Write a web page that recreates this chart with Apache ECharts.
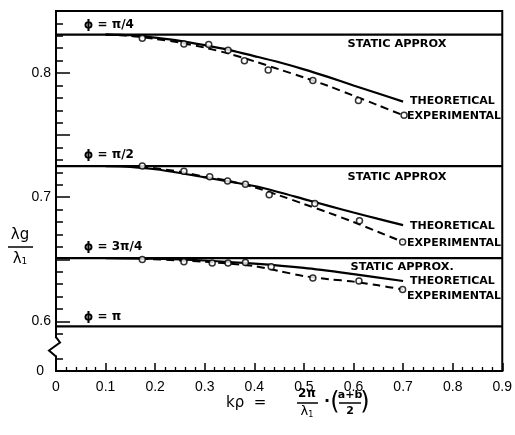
<!DOCTYPE html>
<html><head><meta charset="utf-8">
<script src="https://cdn.jsdelivr.net/npm/echarts@6/dist/echarts.min.js"></script>
<style>html,body{margin:0;padding:0;background:#fff}#c{width:515px;height:435px}</style>
</head><body><div id="c"></div>
<script>
// ---- data ----
const xTickLabels = ['0','0.1','0.2','0.3','0.4','0.5','0.6','0.7','0.8','0.9'];
const yLabelValues = [0.56, 0.6, 0.7, 0.8];      // 0.56 is the broken-axis position of "0"
const yTickLabels = ['0', '0.6', '0.7', '0.8'];
const phiNames = ['ϕ = π/4', 'ϕ = π/2', 'ϕ = 3π/4', 'ϕ = π'];
const staticApprox = [0.831, 0.725, 0.651, 0.596];
const staticNames = ['STATIC APPROX', 'STATIC APPROX', 'STATIC APPROX.'];

const theoPi4 = [[0.1,0.831],[0.15,0.8305],[0.2,0.8285],[0.25,0.826],[0.3,0.8225],[0.35,0.8185],[0.4,0.8137],[0.45,0.8087],[0.5,0.803],[0.55,0.7967],[0.6,0.790],[0.65,0.7835],[0.7,0.777]];
const expLinePi4 = [[0.1,0.831],[0.15,0.830],[0.2,0.8275],[0.25,0.8245],[0.3,0.8205],[0.35,0.8155],[0.4,0.8095],[0.45,0.803],[0.5,0.7965],[0.55,0.7895],[0.6,0.7818],[0.65,0.774],[0.7,0.766]];
const expPtsPi4 = [[0.174,0.828],[0.258,0.8235],[0.308,0.823],[0.347,0.8183],[0.380,0.810],[0.428,0.8025],[0.518,0.794],[0.610,0.778],[0.702,0.766]];

const theoPi2 = [[0.1,0.725],[0.15,0.7245],[0.2,0.7225],[0.25,0.7195],[0.3,0.716],[0.35,0.7125],[0.4,0.709],[0.45,0.704],[0.5,0.6985],[0.55,0.693],[0.6,0.6877],[0.65,0.6825],[0.7,0.6775]];
const expLinePi2 = [[0.17,0.725],[0.25,0.7205],[0.3,0.7165],[0.35,0.713],[0.4,0.708],[0.45,0.7015],[0.5,0.6945],[0.55,0.6875],[0.6,0.680],[0.65,0.672],[0.7,0.664]];
const expPtsPi2 = [[0.174,0.7252],[0.258,0.721],[0.310,0.7164],[0.346,0.7131],[0.382,0.7105],[0.430,0.702],[0.522,0.695],[0.612,0.681],[0.699,0.664]];

const theo3Pi4 = [[0.1,0.651],[0.2,0.6505],[0.3,0.649],[0.4,0.6465],[0.5,0.643],[0.6,0.638],[0.7,0.6325]];
const expLine3Pi4 = [[0.17,0.6505],[0.3,0.648],[0.4,0.6445],[0.45,0.6405],[0.5,0.6365],[0.55,0.634],[0.6,0.632],[0.65,0.629],[0.7,0.6256]];
const expPts3Pi4 = [[0.174,0.6498],[0.258,0.648],[0.315,0.6471],[0.347,0.6471],[0.382,0.6474],[0.434,0.644],[0.518,0.635],[0.611,0.6325],[0.699,0.6256]];

// ---- build ----
const Y_MIN = 0.56, Y_MAX = 0.85;
const yMinorTicks = [];
for (let k = 1; k <= 28; k++) { const v = Math.round((Y_MIN + k*0.01)*100)/100; if (v !== 0.58) yMinorTicks.push(v); }
const yMajorTicks = [0.6, 0.65, 0.7, 0.75, 0.8];

const BOLD = {fontFamily:'DejaVu Sans', fontWeight:'bold', fontSize:11, color:'#000'};
const theo = [theoPi4, theoPi2, theo3Pi4];
const expL = [expLinePi4, expLinePi2, expLine3Pi4];
const expP = [expPtsPi4, expPtsPi2, expPts3Pi4];
const theoOff = [[1,0],[1,1],[1,0]];
const expOff = [[-2,1],[-2,1],[-2,7]];

const series = [];
staticApprox.forEach(v => series.push({type:'line', data:[[0,v],[0.9,v]], symbol:'none', silent:true,
  lineStyle:{color:'#000', width:2.2}}));
theo.forEach((d,i) => series.push({type:'line', data:d, smooth:0.3, symbol:'none', silent:true,
  lineStyle:{color:'#000', width:2.2},
  endLabel:Object.assign({show:true, formatter:'THEORETICAL', distance:6, offset:theoOff[i]}, BOLD)}));
expL.forEach((d,i) => series.push({type:'line', data:d, smooth:0.3, symbol:'none', silent:true,
  lineStyle:{color:'#000', width:2, type:[8,5]},
  endLabel:Object.assign({show:true, formatter:'EXPERIMENTAL', distance:6, offset:expOff[i]}, BOLD)}));
expP.forEach(d => series.push({type:'scatter', data:d, symbol:'circle', symbolSize:6, z:5, silent:true,
  itemStyle:{color:'#fff', borderColor:'#000', borderWidth:1.5}}));

const chart = echarts.init(document.getElementById('c'));
chart.setOption({
  animation:false,
  backgroundColor:'#fff',
  grid:{left:56, top:11, width:450, height:360, show:true, borderColor:'#000', borderWidth:2, backgroundColor:'transparent'},
  xAxis:{type:'value', min:0, max:0.9, interval:0.1,
    axisLine:{show:true, lineStyle:{color:'#000', width:2}},
    axisTick:{show:true, inside:true, length:8, lineStyle:{color:'#000', width:1.5}},
    minorTick:{show:true, splitNumber:5, length:4, lineStyle:{color:'#000', width:1.3}},
    axisLabel:{formatter:v => xTickLabels[Math.round(v*10)], fontFamily:'Liberation Sans', fontSize:14, color:'#000', margin:9},
    splitLine:{show:false}},
  yAxis:[{type:'value', min:Y_MIN, max:Y_MAX,
    axisLine:{show:true, onZero:false, lineStyle:{color:'#000', width:2}},
    axisTick:{show:true, inside:true, length:7, customValues:yMinorTicks, lineStyle:{color:'#000', width:1.5}},
    axisLabel:{customValues:yLabelValues, fontFamily:'Liberation Sans', fontSize:14, color:'#000', margin:5,
      formatter:v => { const i = yLabelValues.findIndex(u => Math.abs(u-v) < 1e-6); return i === 0 ? '{z|'+yTickLabels[0]+'}' : (i > 0 ? yTickLabels[i] : ''); },
      rich:{z:{fontFamily:'Liberation Sans', fontSize:14, color:'#000', padding:[0,7,0,0]}}},
    splitLine:{show:false}},
   {type:'value', min:Y_MIN, max:Y_MAX, position:'left',
    axisLine:{show:false}, axisLabel:{show:false}, splitLine:{show:false},
    axisTick:{show:true, inside:true, length:14, customValues:yMajorTicks, lineStyle:{color:'#000', width:1.5}}}],
  series:series
});

// ---- annotations anchored to data positions ----
const px = (x,y) => chart.convertToPixel({gridIndex:0}, [x,y]);
const g = [];
const phiDy = [-10, -11, -11, -9];
staticApprox.forEach((v,i) => {
  const p = px(0.06, v);
  g.push({type:'text', x:p[0]-2, y:p[1]+phiDy[i], z:100,
    style:{text:phiNames[i], fontFamily:'DejaVu Sans', fontWeight:'bold', fontSize:12, fill:'#000', verticalAlign:'middle', align:'left'}});
});
const sDy = [9, 11, 9];
const sX = [0.588, 0.588, 0.594];
staticNames.forEach((t,i) => {
  const p = px(sX[i], staticApprox[i]);
  g.push({type:'text', x:p[0], y:p[1]+sDy[i], z:100,
    style:{text:t, fontFamily:'DejaVu Sans', fontWeight:'bold', fontSize:11.3, fill:'#000', verticalAlign:'middle', align:'left'}});
});
// axis break zigzag
const a = px(0, 0.5865), b = px(0, 0.583), c = px(0, 0.5765), d = px(0, 0.5725);
g.push({type:'rect', z:99, shape:{x:a[0]-10, y:a[1], width:20, height:d[1]-a[1]}, style:{fill:'#fff'}});
g.push({type:'polyline', z:100, shape:{points:[[a[0],a[1]-1],[a[0]+4,b[1]],[a[0]-7,c[1]],[a[0],d[1]+1]]},
  style:{stroke:'#000', lineWidth:2, fill:null}});
// y-axis title
g.push({type:'text', x:20, y:235, z:100, style:{text:'λg', fontFamily:'DejaVu Sans', fontSize:15, fill:'#000', align:'center', verticalAlign:'middle'}});
g.push({type:'line', z:100, shape:{x1:8, y1:247, x2:33, y2:247}, style:{stroke:'#000', lineWidth:1.5}});
g.push({type:'text', x:20, y:259, z:100, style:{text:'λ{s|1}', rich:{s:{fontSize:9, fontFamily:'DejaVu Sans', fill:'#000', padding:[6,0,0,0]}}, fontFamily:'DejaVu Sans', fontSize:15, fill:'#000', align:'center', verticalAlign:'middle'}});
// x-axis title
const T = {fontFamily:'DejaVu Sans', fill:'#000', verticalAlign:'middle'};
g.push({type:'text', x:226, y:403, z:100, style:Object.assign({text:'kρ  =', fontSize:15, align:'left'}, T)});
g.push({type:'text', x:307, y:394, z:100, style:Object.assign({text:'2π', fontSize:12, fontWeight:'bold', align:'center'}, T)});
g.push({type:'line', z:100, shape:{x1:297, y1:403, x2:318, y2:403}, style:{stroke:'#000', lineWidth:1.5}});
g.push({type:'text', x:307, y:412, z:100, style:Object.assign({text:'λ{s|1}', rich:{s:{fontSize:8, fontFamily:'DejaVu Sans', fill:'#000', padding:[5,0,0,0]}}, fontSize:13, align:'center'}, T)});
g.push({type:'text', x:327, y:402, z:100, style:Object.assign({text:'·', fontSize:16, fontWeight:'bold', align:'center'}, T)});
g.push({type:'text', x:335, y:403, z:100, style:Object.assign({text:'(', fontSize:24, align:'center'}, T)});
g.push({type:'text', x:350, y:395, z:100, style:Object.assign({text:'a+b', fontSize:11, fontWeight:'bold', align:'center'}, T)});
g.push({type:'line', z:100, shape:{x1:339, y1:403, x2:361, y2:403}, style:{stroke:'#000', lineWidth:1.5}});
g.push({type:'text', x:350, y:411, z:100, style:Object.assign({text:'2', fontSize:11, fontWeight:'bold', align:'center'}, T)});
g.push({type:'text', x:365, y:403, z:100, style:Object.assign({text:')', fontSize:24, align:'center'}, T)});
chart.setOption({graphic:{elements:g}});
</script></body></html>
